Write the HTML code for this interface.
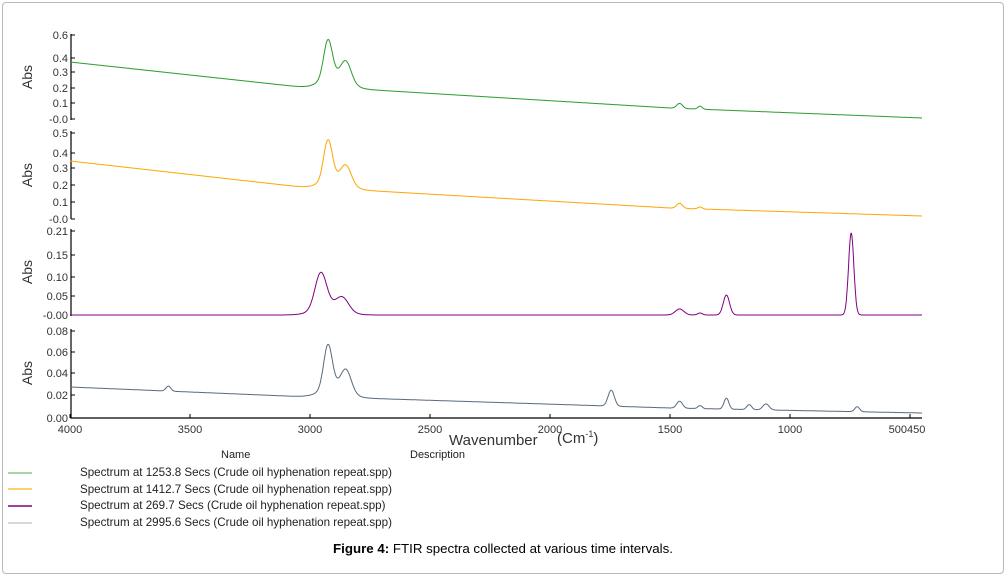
<!DOCTYPE html>
<html><head><meta charset="utf-8"><style>
body{margin:0;background:#fff;width:1006px;height:576px;overflow:hidden;font-family:"Liberation Sans",Arial,sans-serif;}
#frame{position:absolute;left:2px;top:2px;width:1000px;height:570px;border:1px solid #b8b8b8;border-radius:4px;}
</style></head><body>
<div id="frame"></div>
<svg id="s" width="1006" height="576" style="position:absolute;left:0;top:0" font-family="Liberation Sans, Arial, sans-serif">
<g stroke="#000" stroke-width="1.2" fill="none">
<path d="M71,34V120M71,131V219M71,229V316M71,329V418H922"/>
</g>
<g id="ticks" stroke="#000" stroke-width="1"></g>
<g font-size="11" fill="#333" text-anchor="end" id="ylab"></g>
<g font-size="14" fill="#333" text-anchor="middle">
<text transform="translate(32,77) rotate(-90)">Abs</text>
<text transform="translate(32,175) rotate(-90)">Abs</text>
<text transform="translate(32,272) rotate(-90)">Abs</text>
<text transform="translate(32,373) rotate(-90)">Abs</text>
</g>
<g font-size="11" fill="#333" text-anchor="middle">
<text x="70" y="433">4000</text><text x="190" y="433">3500</text><text x="310" y="433">3000</text>
<text x="430" y="433">2500</text><text x="550" y="433">2000</text><text x="670" y="433">1500</text>
<text x="790" y="433">1000</text><text x="907" y="433">500450</text>
</g>
<text x="449" y="445" font-size="15" fill="#333">Wavenumber</text>
<text x="557" y="443" font-size="15" fill="#333">(Cm<tspan font-size="9" dy="-6">-1</tspan><tspan dy="6">)</tspan></text>
<text x="221" y="458" font-size="11" fill="#222">Name</text>
<text x="410" y="458" font-size="11" fill="#222">Description</text>
<g stroke-width="1.5">
<line x1="8" y1="473" x2="32" y2="473" stroke="#8dc78d"/>
<line x1="8" y1="489" x2="32" y2="489" stroke="#ffc040"/>
<line x1="8" y1="506" x2="32" y2="506" stroke="#800080"/>
<line x1="8" y1="523" x2="32" y2="523" stroke="#c8ccd0"/>
</g>
<g font-size="11.6" fill="#222">
<text x="80" y="476">Spectrum at 1253.8 Secs (Crude oil hyphenation repeat.spp)</text>
<text x="80" y="493">Spectrum at 1412.7 Secs (Crude oil hyphenation repeat.spp)</text>
<text x="80" y="509">Spectrum at 269.7 Secs (Crude oil hyphenation repeat.spp)</text>
<text x="80" y="526">Spectrum at 2995.6 Secs (Crude oil hyphenation repeat.spp)</text>
</g>
<text x="503" y="553" font-size="13.3" fill="#000" text-anchor="middle"><tspan font-weight="bold">Figure 4:</tspan>  FTIR spectra collected at various time intervals.</text>
<g id="curves" fill="none" stroke-width="1"></g>
</svg>
<script>
var ns="http://www.w3.org/2000/svg";
function el(p,t,a,txt){var e=document.createElementNS(ns,t);for(var k in a)e.setAttribute(k,a[k]);if(txt!==undefined)e.textContent=txt;p.appendChild(e);return e;}
var yl=[[["0.6",35],["0.4",58],["0.3",72],["0.2",88],["0.1",103],["-0.0",119]],
[["0.5",133],["0.4",153],["0.3",168],["0.2",185],["0.1",202],["-0.0",219]],
[["0.21",231],["0.15",255],["0.10",277],["0.05",296],["-0.00",315]],
[["0.08",331],["0.06",352],["0.04",373],["0.02",395],["0.00",418]]];
var yg=document.getElementById("ylab"),tg=document.getElementById("ticks");
yl.forEach(function(p){p.forEach(function(q){el(yg,"text",{x:68,y:q[1]+4},q[0]);el(tg,"line",{x1:71,x2:75,y1:q[1],y2:q[1]});});});
[70,190,310,430,550,670,790,910].forEach(function(x){el(tg,"line",{x1:x,x2:x,y1:418,y2:414});});
function X(w){return 70+(4000-w)*0.24;}
function series(base,peaks,col){
 var d="";
 for(var w=4000;w>=450;w-=2){
  var b;for(var i=0;i<base.length-1;i++){if(w<=base[i][0]&&w>=base[i+1][0]){var t=(base[i][0]-w)/(base[i][0]-base[i+1][0]);b=base[i][1]+t*(base[i+1][1]-base[i][1]);break;}}
  var y=b;peaks.forEach(function(p){var z=(w-p[0])/p[2];y+=p[1]*Math.exp(-z*z/2);});
  d+=(d?"L":"M")+X(w).toFixed(1)+","+y.toFixed(1);
 }
 el(document.getElementById("curves"),"path",{d:d,stroke:col});
}
series([[4000,62],[3000,88],[2800,89],[1500,108],[450,118]],[[2925,-38,18],[2850,-20,22],[2900,-12,55],[1460,-5,12],[1375,-3,9]],"#2e9a2e");
series([[4000,161],[3000,188],[2800,190],[1500,208],[450,216]],[[2925,-40,18],[2850,-18,22],[2900,-10,55],[1460,-5,12],[1375,-2,9]],"#ffa500");
series([[4000,315],[450,315]],[[2955,-36,24],[2865,-13,26],[2920,-8,60],[1460,-6,18],[1375,-2,10],[1265,-20,13],[745,-82,11]],"#800080");
series([[4000,387],[3000,397],[2800,398],[1500,408],[450,413]],[[3590,-5,10],[2925,-44,18],[2850,-22,22],[2900,-10,55],[1745,-16,13],[1460,-7,12],[1375,-3,9],[1265,-11,10],[1170,-5,10],[1100,-6,13],[720,-5,10]],"#5a6a7a");
</script>
</body></html>
